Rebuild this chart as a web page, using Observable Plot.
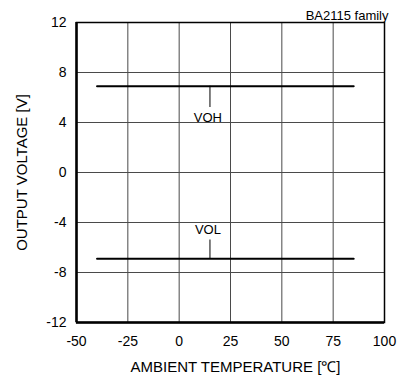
<!DOCTYPE html>
<html>
<head>
<meta charset="utf-8">
<script src="https://cdn.jsdelivr.net/npm/d3@7"></script>
<script src="https://cdn.jsdelivr.net/npm/@observablehq/plot@0.6"></script>
<style>
  html, body { margin: 0; padding: 0; background: #fff; }
  #chart svg { display: block; }
</style>
</head>
<body>
<div id="chart"></div>
<script>
// Data
const temps = [-40, 85];
const voh = [6.9, 6.9];
const vol = [-6.9, -6.9];
const xTicks = [-50, -25, 0, 25, 50, 75, 100];
const yTicks = [-12, -8, -4, 0, 4, 8, 12];
const labelNames = ["VOH", "VOL"];
const labelX = [14, 14];
const labelY = [4.4, -4.6];
const leaderX = [15, 15];
const leaderFrom = [6.9, -6.9];
const leaderTo = [5.2, -5.4];
const title = "BA2115 family";

const seriesRows = [
  ...temps.map((t, i) => ({t, v: voh[i], s: "VOH"})),
  ...temps.map((t, i) => ({t, v: vol[i], s: "VOL"}))
];
const labels = labelNames.map((n, i) => ({n, x: labelX[i], y: labelY[i]}));
const leaders = leaderX.map((x, i) => ({x, y1: leaderFrom[i], y2: leaderTo[i]}));

const font = "'Liberation Sans', Arial, sans-serif";

const chart = Plot.plot({
  width: 407,
  height: 383,
  marginLeft: 76,
  marginRight: 23,
  marginTop: 22,
  marginBottom: 61,
  style: {fontFamily: font, fontSize: "14px", color: "#000", background: "#fff"},
  x: {domain: [-50, 100]},
  y: {domain: [-12, 12]},
  marks: [
    Plot.ruleX(xTicks.slice(1, -1), {stroke: "#4a4a4a", strokeWidth: 1}),
    Plot.ruleY(yTicks.slice(1, -1), {stroke: "#4a4a4a", strokeWidth: 1}),
    Plot.frame({stroke: "#000", strokeWidth: 1.5}),
    Plot.ruleX([-50], {stroke: "#000", strokeWidth: 2.5}),
    Plot.ruleY([-12], {stroke: "#000", strokeWidth: 2.5}),
    Plot.lineY(seriesRows, {x: "t", y: "v", z: "s", stroke: "#000", strokeWidth: 2}),
    Plot.ruleX(leaders, {x: "x", y1: "y1", y2: "y2", stroke: "#000", strokeWidth: 1}),
    Plot.text(labels, {x: "x", y: "y", text: "n", fontSize: 13, fill: "#000"}),
    Plot.axisX({ticks: xTicks, tickSize: 0, tickPadding: 14, tickFormat: d => String(d), fontSize: 14, label: null}),
    Plot.axisY({ticks: yTicks, tickSize: 0, tickPadding: 10, tickFormat: d => String(d), fontSize: 14, label: null}),
    Plot.text(["AMBIENT TEMPERATURE [℃]"], {frameAnchor: "bottom", dy: 49, dx: 5, fontSize: 15, fill: "#000"}),
    Plot.text(["OUTPUT VOLTAGE [V]"], {frameAnchor: "left", dx: -54, rotate: -90, textAnchor: "middle", fontSize: 15, fill: "#000"}),
    Plot.text([title], {frameAnchor: "top-right", dy: -12, dx: 4, textAnchor: "end", fontSize: 13, fill: "#000"})
  ]
});
document.getElementById("chart").appendChild(chart);
</script>
</body>
</html>
